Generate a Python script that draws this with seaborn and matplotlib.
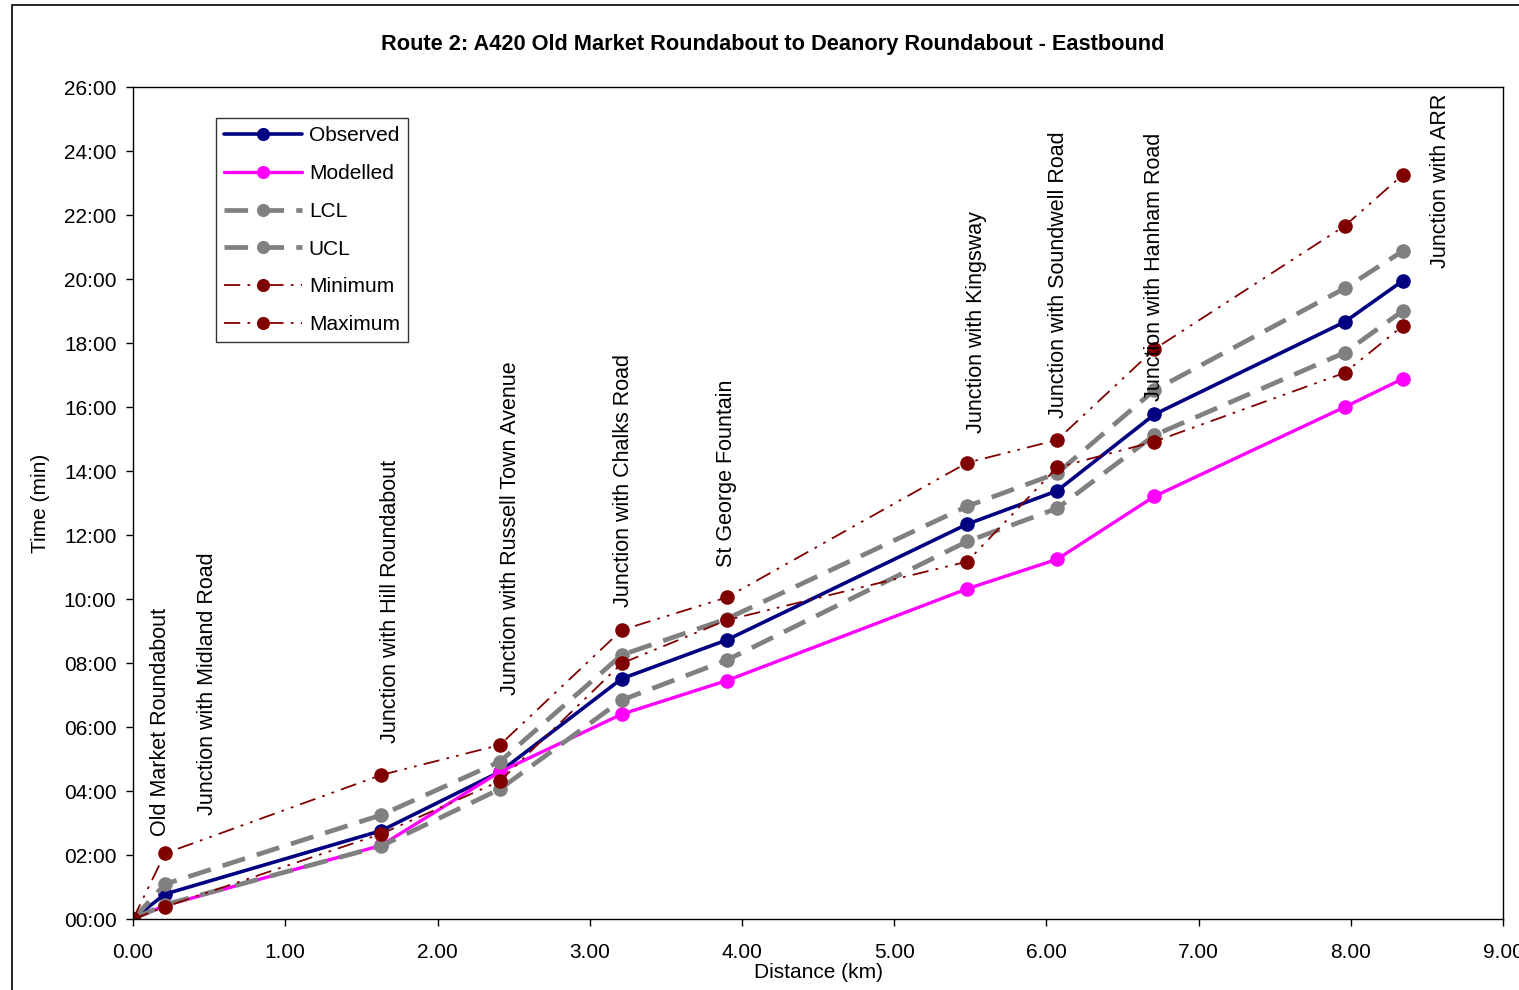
#!/usr/bin/env python3
"""Journey time profile along Route 2 (eastbound) - observed vs modelled."""

import matplotlib
matplotlib.use("Agg")
import matplotlib.pyplot as plt
from matplotlib.patches import Rectangle
from matplotlib.ticker import FuncFormatter, MultipleLocator
import pandas as pd
import seaborn as sns

# distance along route (km) and cumulative times (minutes)
distance = [0.00, 0.21, 1.63, 2.41, 3.21, 3.90, 5.48, 6.07, 6.71, 7.96, 8.34]
observed = [0.00, 0.78, 2.76, 4.60, 7.51, 8.72, 12.34, 13.38, 15.77, 18.66, 19.94]
modelled = [0.00, 0.42, 2.30, 4.60, 6.40, 7.45, 10.32, 11.24, 13.21, 16.00, 16.88]
lcl = [0.00, 0.45, 2.28, 4.06, 6.84, 8.09, 11.80, 12.83, 15.12, 17.70, 19.00]
ucl = [0.00, 1.09, 3.25, 4.92, 8.25, 9.38, 12.90, 13.93, 16.53, 19.71, 20.87]
minimum = [0.00, 0.38, 2.66, 4.31, 7.99, 9.34, 11.17, 14.11, 14.92, 17.07, 18.53]
maximum = [0.00, 2.05, 4.50, 5.44, 9.03, 10.05, 14.26, 14.97, 17.81, 21.66, 23.25]

junctions = [
    "Old Market Roundabout",
    "Junction with Midland Road",
    "Junction with Hill Roundabout",
    "Junction with Russell Town Avenue",
    "Junction with Chalks Road",
    "St George Fountain",
    "Junction with Kingsway",
    "Junction with Soundwell Road",
    "Junction with Hanham Road",
    "Junction with ARR",
]
# anchor (bottom of rotated text) for each junction label, data coords
label_x = [0.18, 0.49, 1.69, 2.48, 3.22, 3.90, 5.54, 6.08, 6.71, 8.59]
label_y = [2.6, 3.25, 5.5, 7.0, 9.75, 11.0, 15.2, 15.65, 16.2, 20.35]

SERIES = [
    ("Observed", observed, {"color": "#000080", "lw": 2.6, "ls": "-"}),
    ("Modelled", modelled, {"color": "#FF00FF", "lw": 2.4, "ls": "-"}),
    ("LCL", lcl, {"color": "#808080", "lw": 3.4, "ls": (0, (5, 2.6))}),
    ("UCL", ucl, {"color": "#808080", "lw": 3.4, "ls": (0, (5, 2.6))}),
    ("Minimum", minimum, {"color": "#800000", "lw": 1.3, "ls": (0, (9, 4, 1.5, 4, 1.5, 4))}),
    ("Maximum", maximum, {"color": "#800000", "lw": 1.3, "ls": (0, (9, 4, 1.5, 4, 1.5, 4))}),
]

FS = 15


def main():
    sns.set_theme(style="white")
    plt.rcParams["font.family"] = ["Liberation Sans", "DejaVu Sans"]
    plt.rcParams["text.color"] = "black"
    plt.rcParams["axes.labelcolor"] = "black"

    fig = plt.figure(figsize=(15.19, 9.9), dpi=100)
    ax = fig.add_axes([0.0876, 0.0717, 0.9019, 0.8404])

    for name, values, st in SERIES:
        df = pd.DataFrame({"distance": distance, "time": values})
        sns.lineplot(
            data=df, x="distance", y="time", ax=ax, sort=False, estimator=None,
            color=st["color"], linewidth=st["lw"], linestyle=st["ls"],
            marker="o", markersize=10.5, markeredgecolor=st["color"],
            markeredgewidth=0, label=name,
        )

    for text, x, y in zip(junctions, label_x, label_y):
        ax.text(x, y, text, rotation=90, ha="center", va="bottom",
                fontsize=15.5, color="black")

    ax.set_xlim(0, 9)
    ax.set_ylim(0, 26)
    ax.xaxis.set_major_locator(MultipleLocator(1))
    ax.yaxis.set_major_locator(MultipleLocator(2))
    ax.xaxis.set_major_formatter(FuncFormatter(lambda v, _: f"{v:.2f}"))
    ax.yaxis.set_major_formatter(FuncFormatter(lambda v, _: f"{int(round(v)):02d}:00"))
    ax.tick_params(axis="both", labelsize=FS, colors="black", direction="out",
                   length=5, width=1, bottom=True, left=True)
    ax.tick_params(axis="x", pad=12)
    ax.tick_params(axis="y", pad=7)
    for sp in ax.spines.values():
        sp.set_color("black")
        sp.set_linewidth(1)

    ax.set_xlabel("Distance (km)", fontsize=FS, labelpad=1)
    ax.set_ylabel("Time (min)", fontsize=FS, labelpad=10)

    leg = ax.legend(loc="upper left", bbox_to_anchor=(0.0606, 0.9627), fontsize=FS,
                    frameon=True, fancybox=False, handlelength=3.7,
                    labelspacing=0.9, borderpad=0.4, handletextpad=0.35,
                    borderaxespad=0, markerscale=0.9)
    leg.get_frame().set_edgecolor("black")
    leg.get_frame().set_linewidth(1)
    for t in leg.get_texts():
        t.set_color("black")

    fig.text(0.509, 0.955, "Route 2: A420 Old Market Roundabout to Deanory Roundabout - Eastbound",
             ha="center", va="center", fontsize=15.7, fontweight="bold", color="black")

    fig.patches.append(Rectangle((12 / 1519, -0.02), 1.0, 1.02 - 5 / 990,
                                 transform=fig.transFigure, fill=False,
                                 edgecolor="black", linewidth=1.2))

    fig.savefig("out.png", dpi=100)
    plt.close(fig)


if __name__ == "__main__":
    main()
